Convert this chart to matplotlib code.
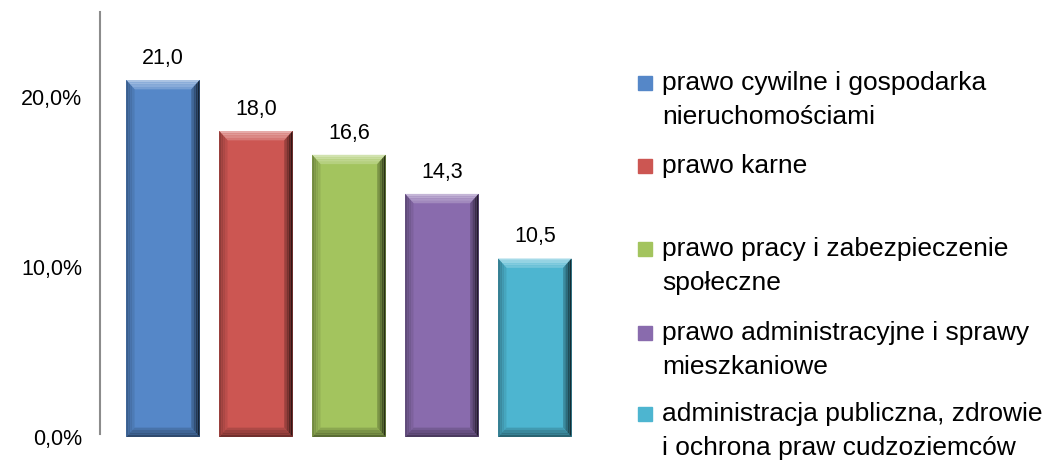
import numpy as np
import matplotlib
matplotlib.use("Agg")
import matplotlib.pyplot as plt
from matplotlib.patches import Polygon, Rectangle
from matplotlib.colors import to_rgb

categories = [
    "prawo cywilne i gospodarka\nnieruchomościami",
    "prawo karne",
    "prawo pracy i zabezpieczenie\nspołeczne",
    "prawo administracyjne i sprawy\nmieszkaniowe",
    "administracja publiczna, zdrowie\ni ochrona praw cudzoziemców",
]
values = [21.0, 18.0, 16.6, 14.3, 10.5]
colors = ["#5587C8", "#CC5652", "#A3C45E", "#896BAD", "#4DB5D0"]
yticks = [0, 10, 20]

LABEL_FONT = ["Liberation Sans", "DejaVu Sans"]
LEGEND_FONT = ["Liberation Sans", "DejaVu Sans"]


def shade(c, f):
    """f > 0 mixes with white, f < 0 with black."""
    r = np.array(to_rgb(c))
    if f >= 0:
        return tuple(r + (1 - r) * f)
    return tuple(r * (1 + f))


fig = plt.figure(figsize=(10.55, 4.61), dpi=100)
ax = fig.add_axes([100 / 1055, 24 / 461, 498 / 1055, 425 / 461])

x = np.arange(len(values))
width = 0.79
ax.bar(x, values, width=width, color=colors, zorder=2)

# bevel look: shaded strips along each edge
bx, by = 0.09, 0.55
steps = 4
for xi, v, c in zip(x, values, colors):
    x0, x1 = xi - width / 2, xi + width / 2
    for k in range(steps):
        t0, t1 = k / steps, (k + 1) / steps
        # top (light)
        ax.add_patch(Polygon([(x0 + bx * t0, v - by * t0), (x1 - bx * t0, v - by * t0),
                              (x1 - bx * t1, v - by * t1), (x0 + bx * t1, v - by * t1)],
                             closed=True, color=shade(c, 0.5 - 0.1 * k), lw=0, zorder=3))
        # right (dark)
        ax.add_patch(Polygon([(x1 - bx * t0, v - by * t0), (x1 - bx * t0, by * t0),
                              (x1 - bx * t1, by * t1), (x1 - bx * t1, v - by * t1)],
                             closed=True, color=shade(c, -0.75 + 0.17 * k), lw=0, zorder=3))
        # left (slightly dark)
        ax.add_patch(Polygon([(x0 + bx * t0, v - by * t0), (x0 + bx * t0, by * t0),
                              (x0 + bx * t1, by * t1), (x0 + bx * t1, v - by * t1)],
                             closed=True, color=shade(c, -0.3 + 0.07 * k), lw=0, zorder=3))
        # bottom (dark)
        ax.add_patch(Polygon([(x0 + bx * t0, by * t0), (x1 - bx * t0, by * t0),
                              (x1 - bx * t1, by * t1), (x0 + bx * t1, by * t1)],
                             closed=True, color=shade(c, -0.45 + 0.1 * k), lw=0, zorder=3))
    ax.text(xi, v + 0.65, f"{v:.1f}".replace(".", ","), ha="center", va="bottom",
            fontsize=15.5, family=LABEL_FONT, color="black")

ax.set_xlim(-0.677, 4.68)
ax.set_ylim(0, 25)
ax.set_yticks(yticks)
ax.set_yticklabels([f"{t:.1f}%".replace(".", ",") for t in yticks],
                   fontsize=15.5, family=LABEL_FONT)
ax.tick_params(axis="y", length=0, pad=13)
ax.set_xticks([])
for s in ["top", "right", "bottom"]:
    ax.spines[s].set_visible(False)
ax.spines["left"].set_color("#8c8c8c")
ax.spines["left"].set_linewidth(1.5)
ax.spines["left"].set_bounds(0.2, 25)

# legend placed by hand (uneven spacing in the original)
legend_y = [83, 166, 249, 333, 414]
line_gap = 34
for lab, c, ly in zip(categories, colors, legend_y):
    fy = 1 - ly / 461
    fig.patches.append(Rectangle((638 / 1055, fy - 7 / 461), 14 / 1055, 14 / 461,
                                 transform=fig.transFigure, color=c, zorder=3))
    for j, line in enumerate(lab.split("\n")):
        fig.text(662 / 1055, 1 - (ly + j * line_gap) / 461, line, ha="left", va="center",
                 fontsize=19, family=LEGEND_FONT)

fig.savefig("out.png", dpi=100)
